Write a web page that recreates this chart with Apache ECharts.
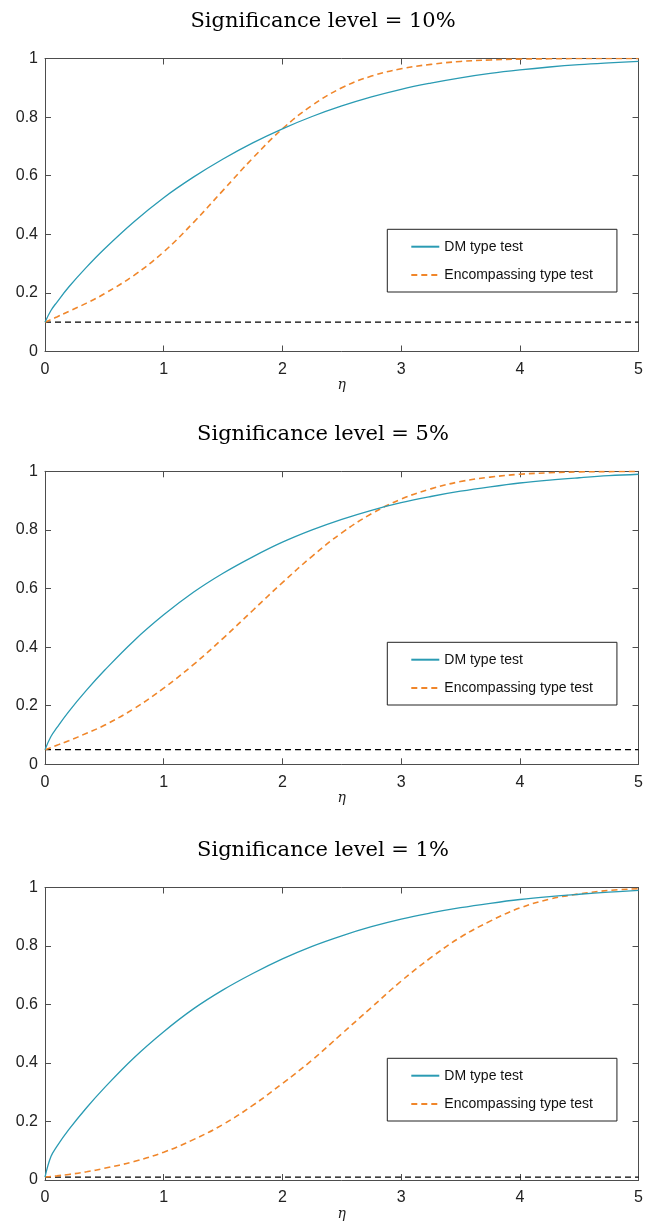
<!DOCTYPE html>
<html><head><meta charset="utf-8">
<script src="https://cdn.jsdelivr.net/npm/echarts@6/dist/echarts.min.js"></script>
<style>html,body{margin:0;padding:0;background:#fff}#c{width:646px;height:1223px}</style>
</head><body><div id="c"></div>
<script>
const titles = ['Significance level = 10%', 'Significance level = 5%', 'Significance level = 1%'];
const levels = [0.10, 0.05, 0.01];
const etaX = [0, 0.05, 0.1, 0.2, 0.35, 0.5, 0.75, 1, 1.25, 1.5, 1.75, 2, 2.25, 2.5, 2.75, 3, 3.25, 3.5, 3.75, 4, 4.25, 4.5, 4.75, 5];
const dm10 = [0.10, 0.14, 0.168, 0.22, 0.288, 0.35, 0.443, 0.525, 0.595, 0.657, 0.712, 0.76, 0.802, 0.838, 0.869, 0.895, 0.916, 0.934, 0.949, 0.961, 0.971, 0.979, 0.985, 0.99];
const enc10 = [0.10, 0.109, 0.118, 0.137, 0.165, 0.197, 0.26, 0.34, 0.44, 0.55, 0.66, 0.76, 0.84, 0.90, 0.94, 0.965, 0.98, 0.99, 0.995, 0.998, 0.999, 1.0, 1.0, 1.0];
const dm5 = [0.05, 0.095, 0.125, 0.18, 0.253, 0.32, 0.422, 0.51, 0.587, 0.652, 0.708, 0.758, 0.80, 0.836, 0.867, 0.893, 0.914, 0.932, 0.947, 0.96, 0.97, 0.978, 0.985, 0.99];
const enc5 = [0.05, 0.057, 0.065, 0.08, 0.106, 0.133, 0.19, 0.26, 0.34, 0.43, 0.525, 0.62, 0.71, 0.79, 0.855, 0.905, 0.94, 0.965, 0.98, 0.99, 0.995, 0.998, 0.999, 1.0];
const dm1 = [0.01, 0.08, 0.115, 0.172, 0.247, 0.315, 0.418, 0.507, 0.585, 0.65, 0.706, 0.756, 0.799, 0.835, 0.866, 0.892, 0.913, 0.931, 0.946, 0.959, 0.969, 0.977, 0.984, 0.99];
const enc1 = [0.01, 0.012, 0.014, 0.019, 0.028, 0.04, 0.063, 0.095, 0.138, 0.19, 0.255, 0.33, 0.41, 0.50, 0.59, 0.68, 0.76, 0.83, 0.885, 0.93, 0.96, 0.978, 0.99, 0.996];
const xTicks = [0, 1, 2, 3, 4, 5];
const yTicks = [0, 0.2, 0.4, 0.6, 0.8, 1];
const dmSets = [dm10, dm5, dm1];
const encSets = [enc10, enc5, enc1];

const TEAL = '#2a9bb3', ORANGE = '#f0862a', AX = '#4d4d4d';
const grids = [
  {left: 45, top: 58.5, width: 596.5, height: 293},
  {left: 45, top: 471.3, width: 596.5, height: 293},
  {left: 45, top: 887.5, width: 596.5, height: 292.5}
];
const titleTops = [6, 419, 835];
const legendTops = [229.3, 642.3, 1058.3];

const opt = {animation: false, title: [], grid: [], xAxis: [], yAxis: [], series: [], legend: []};
const fmt = v => (v === 0 || v === 1 || v === 5) ? String(v) : String(+v.toFixed(1));
for (let g = 0; g < 3; g++) {
  opt.grid.push(grids[g]);
  opt.title.push({text: titles[g], left: 'center', top: titleTops[g],
    textStyle: {fontFamily: 'DejaVu Serif', fontSize: 21, fontWeight: 'normal', color: '#000'}});
  const tickStyle = {show: true, inside: true, length: 6, lineStyle: {color: AX, width: 1}};
  opt.xAxis.push({gridIndex: g, type: 'value', min: 0, max: 5, interval: 1, position: 'bottom',
    axisLine: {show: true, onZero: false, lineStyle: {color: AX, width: 1}}, axisTick: tickStyle,
    splitLine: {show: false},
    axisLabel: {color: '#222', fontFamily: 'Liberation Sans', fontSize: 16, margin: 10, formatter: v => fmt(v)},
    name: 'η', nameLocation: 'middle', nameGap: 27,
    nameTextStyle: {fontFamily: 'DejaVu Serif', fontStyle: 'italic', fontSize: 14, color: '#222'}});
  opt.xAxis.push({gridIndex: g, type: 'value', min: 0, max: 5, interval: 1, position: 'top',
    axisLine: {show: true, onZero: false, lineStyle: {color: AX, width: 1}}, axisTick: tickStyle,
    splitLine: {show: false}, axisLabel: {show: false}});
  opt.yAxis.push({gridIndex: g, type: 'value', min: 0, max: 1, interval: 0.2, position: 'left',
    axisLine: {show: true, onZero: false, lineStyle: {color: AX, width: 1}}, axisTick: tickStyle,
    splitLine: {show: false},
    axisLabel: {color: '#222', fontFamily: 'Liberation Sans', fontSize: 16, margin: 7, formatter: v => fmt(v)}});
  opt.yAxis.push({gridIndex: g, type: 'value', min: 0, max: 1, interval: 0.2, position: 'right',
    axisLine: {show: true, onZero: false, lineStyle: {color: AX, width: 1}}, axisTick: tickStyle,
    splitLine: {show: false}, axisLabel: {show: false}});
  const xi = g * 2, yi = g * 2;
  opt.series.push({name: 'Level', type: 'line', xAxisIndex: xi, yAxisIndex: yi, symbol: 'none',
    data: [[0, levels[g]], [5, levels[g]]], lineStyle: {color: '#000', width: 1.2, type: [6, 4]}, silent: true, z: 1});
  opt.series.push({name: 'DM type test', type: 'line', xAxisIndex: xi, yAxisIndex: yi, symbol: 'none',
    smooth: 0.4, data: etaX.map((x, i) => [x, dmSets[g][i]]),
    color: TEAL, lineStyle: {color: TEAL, width: 1.3}, z: 3});
  opt.series.push({name: 'Encompassing type test', type: 'line', xAxisIndex: xi, yAxisIndex: yi, symbol: 'none',
    smooth: 0.4, data: etaX.map((x, i) => [x, encSets[g][i]]),
    color: ORANGE, lineStyle: {color: ORANGE, width: 1.6, type: [6, 4]}, z: 2});
  opt.legend.push({data: ['DM type test', 'Encompassing type test'], orient: 'vertical',
    left: 387.3, top: legendTops[g], itemWidth: 28, itemHeight: 14, itemGap: 14.3,
    padding: [10.4, 24, 10, 23], borderColor: '#222', borderWidth: 1, backgroundColor: '#fff',
    selectedMode: false, itemStyle: {opacity: 0, borderWidth: 0},
    textStyle: {fontFamily: 'Liberation Sans', fontSize: 14, color: '#111'}});
}
const chart = echarts.init(document.getElementById('c'), null, {renderer: 'canvas'});
chart.setOption(opt);
</script></body></html>
